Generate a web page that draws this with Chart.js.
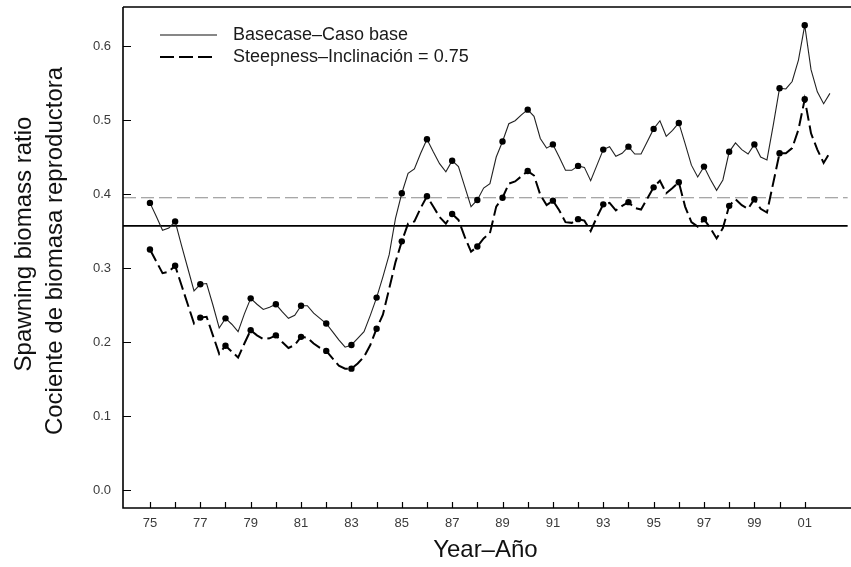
<!DOCTYPE html>
<html>
<head>
<meta charset="utf-8">
<script src="https://cdn.jsdelivr.net/npm/chart.js@4.4.1/dist/chart.umd.min.js"></script>
<style>
  html, body { margin: 0; padding: 0; background: #fff; }
  #wrap { width: 851px; height: 567px; position: relative; }
</style>
</head>
<body>
<div id="wrap"><canvas id="c" width="851" height="567"></canvas></div>
<script>
// ---- data (quarterly, first point = 1975 Q1, last = 2002 Q1) ----
const startYear = 1975;
const baseValues = [
  0.388, 0.370, 0.351, 0.354,   // 1975
  0.363, 0.331, 0.300, 0.269,   // 1976
  0.278, 0.279, 0.250, 0.219,   // 1977
  0.232, 0.224, 0.214, 0.238,   // 1978
  0.259, 0.251, 0.244, 0.247,   // 1979
  0.251, 0.241, 0.232, 0.236,   // 1980
  0.249, 0.249, 0.239, 0.232,   // 1981
  0.225, 0.214, 0.203, 0.193,   // 1982
  0.196, 0.205, 0.214, 0.236,   // 1983
  0.260, 0.288, 0.318, 0.367,   // 1984
  0.401, 0.428, 0.434, 0.455,   // 1985
  0.474, 0.457, 0.441, 0.430,   // 1986
  0.445, 0.437, 0.410, 0.383,   // 1987
  0.392, 0.408, 0.414, 0.450,   // 1988
  0.471, 0.495, 0.499, 0.507,   // 1989
  0.514, 0.505, 0.475, 0.462,   // 1990
  0.467, 0.450, 0.432, 0.432,   // 1991
  0.438, 0.436, 0.418, 0.439,   // 1992
  0.460, 0.464, 0.451, 0.455,   // 1993
  0.464, 0.454, 0.454, 0.471,   // 1994
  0.488, 0.499, 0.478, 0.486,   // 1995
  0.496, 0.468, 0.439, 0.423,   // 1996
  0.437, 0.420, 0.405, 0.419,   // 1997
  0.457, 0.469, 0.460, 0.454,   // 1998
  0.467, 0.450, 0.446, 0.493,   // 1999
  0.543, 0.542, 0.552, 0.581,   // 2000
  0.628, 0.568, 0.538, 0.522,   // 2001
  0.536                         // 2002
];
const steepValues = [
  0.325, 0.309, 0.293, 0.295,   // 1975
  0.303, 0.277, 0.251, 0.225,   // 1976
  0.233, 0.234, 0.209, 0.184,   // 1977
  0.195, 0.187, 0.179, 0.198,   // 1978
  0.216, 0.209, 0.204, 0.205,   // 1979
  0.209, 0.200, 0.192, 0.196,   // 1980
  0.207, 0.206, 0.198, 0.192,   // 1981
  0.188, 0.178, 0.168, 0.164,   // 1982
  0.164, 0.171, 0.180, 0.196,   // 1983
  0.218, 0.237, 0.272, 0.308,   // 1984
  0.336, 0.360, 0.363, 0.381,   // 1985
  0.397, 0.383, 0.369, 0.360,   // 1986
  0.373, 0.365, 0.342, 0.322,   // 1987
  0.329, 0.340, 0.347, 0.383,   // 1988
  0.395, 0.414, 0.417, 0.424,   // 1989
  0.431, 0.425, 0.399, 0.385,   // 1990
  0.391, 0.378, 0.362, 0.361,   // 1991
  0.366, 0.364, 0.350, 0.369,   // 1992
  0.386, 0.388, 0.378, 0.384,   // 1993
  0.389, 0.381, 0.379, 0.394,   // 1994
  0.409, 0.418, 0.401, 0.408,   // 1995
  0.416, 0.383, 0.362, 0.356,   // 1996
  0.366, 0.354, 0.340, 0.354,   // 1997
  0.384, 0.393, 0.385, 0.380,   // 1998
  0.393, 0.380, 0.375, 0.415,   // 1999
  0.455, 0.455, 0.462, 0.487,   // 2000
  0.528, 0.482, 0.460, 0.442,   // 2001
  0.456                         // 2002
];
const refSolidLevel = 0.357;   // horizontal solid reference line
const refDashedLevel = 0.395;  // horizontal dashed grey reference line

const tickYears = [1975,1976,1977,1978,1979,1980,1981,1982,1983,1984,1985,1986,1987,1988,
                   1989,1990,1991,1992,1993,1994,1995,1996,1997,1998,1999,2000,2001];
const tickLabels = ['75','','77','','79','','81','','83','','85','','87','','89','','91','',
                    '93','','95','','97','','99','','01'];
const yTickValues = [0.0, 0.1, 0.2, 0.3, 0.4, 0.5, 0.6];
const yTickLabels = ['0.0','0.1','0.2','0.3','0.4','0.5','0.6'];

const legendLabels = ['Basecase\u2013Caso base', 'Steepness\u2013Inclinaci\u00f3n = 0.75'];
const yTitleLines = ['Spawning biomass ratio', 'Cociente de biomasa reproductora'];
const xTitle = 'Year\u2013A\u00f1o';

// ---- build library data ----
const toPoints = arr => arr.map((v, i) => ({ x: startYear + i / 4, y: v }));
const X_MIN = 1973.93, X_MAX = 2002.71;
const Y_MIN = -0.0243, Y_MAX = 0.6527;
const lastIndex = baseValues.length - 1;
const dotRadius = ctx => (ctx.dataIndex % 4 === 0 && ctx.dataIndex < lastIndex) ? 3.2 : 0;

const FONT = '"Liberation Sans", Arial, sans-serif';

const decor = {
  id: 'decor',
  afterDraw(chart) {
    const { ctx, chartArea: a, scales } = chart;
    const xs = scales.x, ys = scales.y;
    ctx.save();
    // frame
    ctx.strokeStyle = '#000';
    ctx.lineWidth = 1.6;
    ctx.beginPath();
    ctx.moveTo(a.left, a.top); ctx.lineTo(a.left, a.bottom); ctx.lineTo(chart.width, a.bottom);
    ctx.moveTo(a.left, a.top); ctx.lineTo(chart.width, a.top);
    ctx.stroke();
    // inner ticks
    ctx.lineWidth = 1.2;
    ctx.beginPath();
    yTickValues.forEach(v => {
      const py = Math.round(ys.getPixelForValue(v)) + 0.5;
      ctx.moveTo(a.left, py); ctx.lineTo(a.left + 8, py);
    });
    tickYears.forEach(v => {
      const px = Math.round(xs.getPixelForValue(v)) + 0.5;
      ctx.moveTo(px, a.bottom); ctx.lineTo(px, a.bottom - 6);
    });
    ctx.stroke();
    // legend
    ctx.strokeStyle = '#111';
    ctx.lineWidth = 1.2;
    ctx.setLineDash([]);
    ctx.beginPath(); ctx.moveTo(160, 35); ctx.lineTo(217, 35); ctx.stroke();
    ctx.strokeStyle = '#000';
    ctx.lineWidth = 2;
    ctx.setLineDash([14, 5]);
    ctx.beginPath(); ctx.moveTo(160, 57); ctx.lineTo(217, 57); ctx.stroke();
    ctx.setLineDash([]);
    ctx.fillStyle = '#1a1a1a';
    ctx.font = '18px ' + FONT;
    ctx.textBaseline = 'middle';
    ctx.textAlign = 'left';
    ctx.fillText(legendLabels[0], 233, 35);
    ctx.fillText(legendLabels[1], 233, 57);
    // axis titles
    ctx.fillStyle = '#111';
    ctx.font = '24px ' + FONT;
    ctx.textAlign = 'center';
    ctx.fillText(xTitle, (a.left + a.right) / 2, 550);
    ctx.save();
    ctx.translate(24, 244);
    ctx.rotate(-Math.PI / 2);
    ctx.fillText(yTitleLines[0], 0, 0);
    ctx.restore();
    ctx.save();
    ctx.translate(55, 251);
    ctx.rotate(-Math.PI / 2);
    ctx.fillText(yTitleLines[1], 0, 0);
    ctx.restore();
    ctx.restore();
  }
};

new Chart(document.getElementById('c'), {
  type: 'line',
  data: {
    datasets: [
      {
        label: 'refDashed',
        data: [{ x: X_MIN, y: refDashedLevel }, { x: X_MAX, y: refDashedLevel }],
        borderColor: '#8a8a8a', borderWidth: 1.1, borderDash: [13, 5],
        pointRadius: 0, fill: false, order: 4
      },
      {
        label: 'refSolid',
        data: [{ x: X_MIN, y: refSolidLevel }, { x: X_MAX, y: refSolidLevel }],
        borderColor: '#000', borderWidth: 1.6,
        pointRadius: 0, fill: false, order: 3
      },
      {
        label: legendLabels[1],
        data: toPoints(steepValues),
        borderColor: '#000', borderWidth: 2, borderDash: [13, 5],
        pointRadius: dotRadius, pointBackgroundColor: '#000', pointBorderWidth: 0,
        pointHoverRadius: 0, tension: 0, fill: false, order: 2
      },
      {
        label: legendLabels[0],
        data: toPoints(baseValues),
        borderColor: '#222', borderWidth: 1.1,
        pointRadius: dotRadius, pointBackgroundColor: '#000', pointBorderWidth: 0,
        pointHoverRadius: 0, tension: 0, fill: false, order: 1
      }
    ]
  },
  options: {
    responsive: false,
    animation: false,
    events: [],
    layout: { padding: { top: 7, left: 0, right: 0, bottom: 0 } },
    plugins: { legend: { display: false }, tooltip: { enabled: false }, title: { display: false } },
    scales: {
      x: {
        type: 'linear', min: X_MIN, max: X_MAX,
        grid: { display: false, drawTicks: false },
        border: { display: false },
        afterBuildTicks: s => { s.ticks = tickYears.map(v => ({ value: v })); },
        afterFit: s => { s.height = 59; s.paddingLeft = 0; s.paddingRight = 0; },
        ticks: {
          autoSkip: false, maxRotation: 0, minRotation: 0, padding: 8,
          color: '#3a3a3a', font: { family: FONT, size: 13 },
          callback: (v, i) => tickLabels[i]
        }
      },
      y: {
        type: 'linear', min: Y_MIN, max: Y_MAX,
        grid: { display: false, drawTicks: false },
        border: { display: false },
        afterBuildTicks: s => { s.ticks = yTickValues.map(v => ({ value: v })); },
        afterFit: s => { s.width = 123; s.paddingTop = 0; s.paddingBottom = 0; },
        ticks: {
          padding: 12, color: '#3a3a3a', font: { family: FONT, size: 13 },
          callback: (v, i) => yTickLabels[i]
        }
      }
    }
  },
  plugins: [decor]
});
</script>
</body>
</html>
